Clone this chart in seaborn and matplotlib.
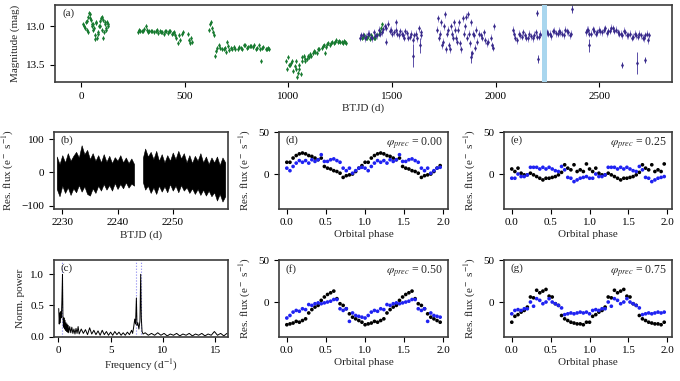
import matplotlib
matplotlib.use("Agg")
import matplotlib.pyplot as plt
import seaborn as sns
import pandas as pd

# ---- (a) long-term light curve ----
green_t = [12, 18, 24, 30, 36, 42, 48, 54, 60, 66, 72, 78, 84, 90, 96, 102, 108, 114, 120, 126, 132, 40, 56, 70, 85, 100,
           275, 285, 295, 305, 312, 320, 330, 340, 350, 360, 370, 380, 390, 400, 410, 420, 430, 440, 450, 460, 468, 475, 485, 490,
           518, 522, 526, 530, 534,
           618, 624, 630, 636, 640,
           645, 655, 665, 680, 695, 705, 715, 730, 745, 760, 775, 790, 805, 820, 835, 850, 865, 880, 895, 905, 700, 870,
           990, 995, 1000, 1008, 1015, 1022, 1030, 1038, 1045, 1052, 1060, 1068, 1075, 1082, 1090, 1100, 1110, 1120,
           1130, 1140, 1150, 1160, 1170, 1180, 1190, 1200, 1210, 1220, 1230, 1240, 1250, 1260, 1270, 1280, 1175, 1040,
           1355, 1365, 1375, 1385, 1395, 1405, 1415, 1425, 1435, 1445, 1450]
green_mag = [12.98, 13.02, 12.95, 13.05, 12.88, 12.85, 12.92, 13.0, 12.97, 13.12, 12.95, 13.15, 13.08, 12.93, 12.9, 13.05, 13.15, 12.98, 13.02, 12.95, 13.0, 12.83, 13.05, 13.17, 13.0, 12.88,
             13.08, 13.06, 13.07, 13.04, 13.0, 13.05, 13.07, 13.06, 13.08, 13.07, 13.09, 13.06, 13.08, 13.1, 13.07, 13.09, 13.06, 13.1, 13.08, 13.15, 13.22, 13.12, 13.1, 13.08,
             13.1, 13.18, 13.22, 13.15, 13.2,
             13.05, 12.98, 13.02, 13.08, 13.12,
             13.38, 13.28, 13.25, 13.3, 13.28, 13.2, 13.31, 13.29, 13.3, 13.27, 13.29, 13.25, 13.27, 13.26, 13.24, 13.28, 13.3, 13.27, 13.29, 13.3, 13.33, 13.45,
             13.45, 13.55, 13.4, 13.5, 13.48, 13.58, 13.52, 13.45, 13.6, 13.55, 13.62, 13.4, 13.38, 13.45, 13.42, 13.4, 13.38, 13.35,
             13.33, 13.35, 13.3, 13.28, 13.25, 13.27, 13.22, 13.24, 13.2, 13.22, 13.18, 13.2, 13.21, 13.2, 13.19, 13.22, 13.35, 13.65,
             13.15, 13.12, 13.16, 13.13, 13.17, 13.14, 13.15, 13.12, 13.1, 13.02, 12.98]
green_t_more = [15, 27, 33, 45, 51, 63, 75, 81, 93, 105, 111, 117, 123, 129,
                280, 300, 325, 345, 365, 385, 405, 425, 445, 455, 480,
                628,
                650, 670, 690, 710, 725, 740, 755, 770, 785, 800, 815, 830, 845, 860, 875, 890, 900,
                1005, 1020, 1035, 1050, 1065, 1080, 1095, 1105, 1125, 1145, 1165, 1185, 1205, 1225, 1245, 1265, 1275,
                1360, 1380, 1400, 1420, 1440]
green_mag_more = [13.0, 12.93, 13.08, 12.9, 12.98, 13.02, 12.96, 13.1, 13.0, 12.92, 13.08, 12.95, 13.05, 12.98,
                  13.05, 13.06, 13.08, 13.07, 13.05, 13.08, 13.07, 13.06, 13.09, 13.12, 13.18,
                  12.95,
                  13.32, 13.28, 13.3, 13.26, 13.28, 13.27, 13.3, 13.28, 13.25, 13.28, 13.26, 13.27, 13.29, 13.25, 13.28, 13.3, 13.28,
                  13.5, 13.45, 13.55, 13.5, 13.45, 13.42, 13.38, 13.36, 13.32, 13.3, 13.26, 13.23, 13.22, 13.2, 13.19, 13.22, 13.2,
                  13.14, 13.15, 13.12, 13.16, 13.08]
green_err = 0.025

purple_t = [1345, 1360, 1375, 1390, 1405, 1420, 1435, 1450, 1465, 1480, 1495, 1510, 1525, 1540, 1555, 1570, 1585, 1600, 1615, 1630, 1640, 1470, 1520, 1560,
            1715, 1725, 1735, 1745, 1755, 1765, 1775, 1785, 1795, 1805, 1815, 1825, 1835, 1845, 1855, 1865, 1875, 1885, 1895, 1905, 1920, 1935, 1950, 1965, 1980, 1990, 1760, 1870,
            2085, 2095, 2110, 2125, 2140, 2155, 2170, 2185, 2200, 2215, 2230, 2245, 2260, 2275, 2290, 2305, 2320, 2335, 2350, 2365,
            2435, 2445, 2460, 2475, 2490, 2505, 2520, 2535, 2550, 2565, 2580, 2595, 2610, 2625, 2640, 2655, 2670, 2685, 2700, 2715, 2730, 2740]
purple_mag = [13.15, 13.12, 13.14, 13.1, 13.16, 13.13, 13.05, 13.08, 13.0, 12.97, 13.05, 13.08, 13.1, 13.07, 13.12, 13.09, 13.14, 13.18, 13.1, 13.03, 13.12, 13.2, 12.95, 13.15,
              13.05, 13.15, 12.95, 13.2, 12.85, 13.1, 13.25, 13.0, 13.15, 13.05, 13.2, 12.95, 13.3, 13.1, 12.88, 12.85, 13.22, 13.35, 13.12, 13.05, 13.1, 13.15, 13.18, 13.2, 13.25, 13.0, 13.3, 13.1,
              13.05, 13.15, 13.1, 13.14, 13.12, 13.16, 13.13, 13.11, 13.14, 13.1, 13.12, 13.08, 13.1, 13.07, 13.09, 13.06, 13.1, 13.05, 13.08, 13.1,
              13.08, 13.05, 13.1, 13.06, 13.08, 13.07, 13.05, 13.09, 13.06, 13.03, 13.05, 13.1, 13.12, 13.08, 13.12, 13.15, 13.1, 13.14, 13.12, 13.16, 13.1, 13.12]
purple_t_more = [1350, 1368, 1382, 1398, 1412, 1428, 1442, 1458, 1472, 1488, 1502, 1518, 1532, 1548, 1562, 1578, 1592, 1608, 1622, 1638,
                 1720, 1730, 1740, 1750, 1770, 1780, 1790, 1800, 1810, 1820, 1830, 1840, 1850, 1860, 1880, 1890, 1900, 1910, 1930, 1945, 1960, 1975, 1985,
                 2090, 2102, 2118, 2132, 2148, 2162, 2178, 2192, 2208, 2222, 2252, 2268, 2282, 2298, 2312, 2328, 2342, 2358,
                 2440, 2452, 2468, 2482, 2498, 2512, 2528, 2542, 2558, 2572, 2588, 2602, 2618, 2632, 2648, 2662, 2678, 2692, 2708, 2722, 2735]
purple_mag_more = [13.12, 13.16, 13.1, 13.14, 13.08, 13.12, 13.1, 13.04, 13.02, 13.06, 13.1, 13.05, 13.12, 13.1, 13.07, 13.15, 13.1, 13.12, 13.16, 13.08,
                   12.9, 13.1, 13.25, 13.0, 13.05, 13.3, 13.1, 12.95, 13.15, 13.05, 13.22, 12.9, 13.0, 13.15, 12.95, 13.1, 13.28, 13.2, 13.12, 13.08, 13.22, 13.15, 13.28,
                   13.1, 13.18, 13.12, 13.08, 13.15, 13.1, 13.16, 13.08, 13.14, 13.12, 13.1, 13.13, 13.06, 13.1, 13.08, 13.12, 13.07, 13.12,
                   13.05, 13.1, 13.04, 13.1, 13.05, 13.08, 13.03, 13.07, 13.02, 13.06, 13.08, 13.1, 13.06, 13.12, 13.1, 13.14, 13.12, 13.1, 13.15, 13.12, 13.18]
purple_err = 0.045
# points with large error bars
out_t = [1600, 1635, 1880, 2200, 2205, 2370, 2450, 2610, 2680, 2720]
out_mag = [13.38, 13.25, 13.4, 12.83, 13.42, 12.78, 13.25, 13.5, 13.48, 13.44]
out_err = [0.15, 0.1, 0.08, 0.04, 0.05, 0.05, 0.08, 0.04, 0.14, 0.04]

# ---- (b) TESS residual flux envelope ----
b1_t = [2229.0, 2229.5, 2230.0, 2230.5, 2231.0, 2231.5, 2232.0, 2232.5, 2233.0, 2233.5, 2234.0, 2234.5, 2235.0, 2235.5,
        2236.0, 2236.5, 2237.0, 2237.5, 2238.0, 2238.5, 2239.0, 2239.5, 2240.0, 2240.5, 2241.0, 2241.5, 2242.0, 2242.5, 2243.0]
b1_hi = [48, 25, 52, 30, 58, 35, 50, 62, 45, 82, 55, 68, 40, 58, 35, 52, 30, 55, 32, 50, 28, 46, 35, 52, 30, 45, 28, 42, 25]
b1_lo = [-50, -72, -40, -62, -45, -68, -48, -60, -38, -58, -42, -65, -70, -48, -62, -40, -55, -35, -52, -38, -55, -32, -50, -35, -48, -30, -46, -34, -40]
b2_t = [2244.6, 2245.0, 2245.5, 2246.0, 2246.5, 2247.0, 2247.5, 2248.0, 2248.5, 2249.0, 2249.5, 2250.0, 2250.5, 2251.0, 2251.5, 2252.0,
        2252.5, 2253.0, 2253.5, 2254.0, 2254.5, 2255.0, 2255.5, 2256.0, 2256.5, 2257.0, 2257.5, 2258.0, 2258.5, 2259.0, 2259.5]
b2_hi = [45, 72, 48, 62, 40, 65, 35, 55, 30, 52, 35, 60, 40, 65, 42, 58, 30, 52, 28, 50, 35, 58, 30, 48, 25, 45, 30, 48, 22, 45, 30]
b2_lo = [-30, -52, -40, -62, -45, -65, -40, -58, -42, -60, -35, -55, -40, -60, -38, -55, -45, -62, -48, -65, -50, -68, -52, -70, -55, -72, -60, -85, -65, -88, -72]
span_a = (2222, 2246)

# ---- (c) periodogram ----
freq = [0.05, 0.1, 0.15, 0.2, 0.25, 0.3, 0.35, 0.41, 0.45, 0.5, 0.55, 0.6, 0.65, 0.7, 0.75, 0.8, 0.85, 0.9, 0.95,
        1.0, 1.1, 1.2, 1.3, 1.4, 1.5, 1.6, 1.7, 1.8, 1.9,
        2.0, 2.2, 2.4, 2.6, 2.8, 3.0, 3.2, 3.4, 3.6, 3.8, 4.0, 4.2, 4.4, 4.6, 4.8, 5.0, 5.2, 5.4, 5.6, 5.8, 6.0, 6.2, 6.4, 6.6, 6.8,
        7.0, 7.1, 7.2, 7.3, 7.38, 7.46, 7.52, 7.6, 7.7, 7.8, 7.87, 7.93, 8.0, 8.1,
        8.3, 8.6, 8.9, 9.2, 9.5, 9.8, 10.1, 10.4, 10.7, 11.0, 11.3, 11.6, 11.9, 12.2, 12.5, 12.8, 13.1, 13.4, 13.7, 14.0,
        14.3, 14.6, 14.9, 15.2, 15.5, 15.8, 16.1]
power = [0.45, 0.2, 0.38, 0.22, 0.4, 0.3, 0.55, 1.0, 0.35, 0.15, 0.3, 0.12, 0.26, 0.1, 0.22, 0.08, 0.2, 0.07, 0.18,
         0.06, 0.16, 0.06, 0.15, 0.05, 0.12, 0.04, 0.13, 0.05, 0.16,
         0.04, 0.12, 0.05, 0.11, 0.03, 0.14, 0.04, 0.1, 0.03, 0.09, 0.02, 0.1, 0.03, 0.08, 0.02, 0.07, 0.02, 0.08, 0.03, 0.07, 0.02, 0.06, 0.02, 0.07, 0.03,
         0.1, 0.05, 0.15, 0.28, 0.2, 0.62, 0.18, 0.22, 0.12, 0.25, 1.0, 0.3, 0.08, 0.04,
         0.06, 0.02, 0.05, 0.02, 0.06, 0.02, 0.05, 0.01, 0.04, 0.02, 0.05, 0.01, 0.04, 0.02, 0.05, 0.01, 0.04, 0.02, 0.05, 0.01,
         0.04, 0.02, 0.08, 0.02, 0.05, 0.01, 0.05]
peak_freqs = [0.41, 7.46, 7.87]

# ---- (d)-(g) phase-folded residuals ----
phase = [0.00, 0.04, 0.08, 0.12, 0.16, 0.20, 0.24, 0.28, 0.32, 0.36, 0.40, 0.44, 0.48,
         0.52, 0.56, 0.60, 0.64, 0.68, 0.72, 0.76, 0.80, 0.84, 0.88, 0.92, 0.96]
d_black = [14, 14, 19, 22, 24, 25, 24, 22, 21, 19, 17, 19, 9, 7, 6, 4, 3, 1, -4, -2, -1, 0, 3, 7, 10]
d_blue = [7, 4, 9, 13, 16, 14, 16, 13, 17, 15, 17, 23, 15, 15, 17, 18, 16, 14, 7, 4, 7, 1, 4, 7, 8]
e_black = [6, 3, 7, 1, -1, -1, 1, -1, -3, -5, -7, -5, -5, -4, -3, -1, 2, 11, 7, 5, 11, 3, 5, 3, 12]
e_blue = [-5, -5, 0, -3, -3, -1, 8, 8, 8, 6, 8, 6, 8, 6, 4, 3, 9, 5, -4, -5, -9, -7, -5, -4, -3]
f_black = [-27, -26, -25, -23, -24, -22, -20, -13, -9, -6, -4, 2, 6, 9, 11, 13, 4, -2, -4, -8, -14, -18, -20, -22, -24]
f_blue = [-19, -16, -12, -10, -11, -8, -9, -3, -4, -2, -1, -2, -1, 0, 1, 3, 3, -8, -10, -8, -23, -13, -16, -17, -18]
g_black = [-24, -17, -15, -12, -10, -6, 6, 5, 14, 11, 13, 15, 7, 6, -2, -4, -16, -20, -22, -24, -25, -26, -26, -27, -24]
g_blue = [-14, -10, -9, -10, -8, -8, 0, -5, 4, 2, -2, 0, 4, 0, -2, -4, -7, -15, -14, -13, -14, -13, -12, -13, -12]
prec_phase = ["0.00", "0.25", "0.50", "0.75"]

sns.set_style("ticks")
plt.rcParams['font.family'] = ['Liberation Serif', 'DejaVu Serif']
plt.rcParams['mathtext.fontset'] = 'stix'
plt.rcParams['font.size'] = 8
plt.rcParams['xtick.labelsize'] = 8
plt.rcParams['ytick.labelsize'] = 8
plt.rcParams['xtick.major.size'] = 3.5
plt.rcParams['ytick.major.size'] = 3.5

W, H = 680, 381
fig = plt.figure(figsize=(6.8, 3.81), dpi=100)


def box(x0, y0, x1, y1):
    # pixel box (top-left origin) -> axes
    return fig.add_axes([x0 / W, 1 - y1 / H, (x1 - x0) / W, (y1 - y0) / H])


def style(ax, label):
    for s in ax.spines.values():
        s.set_color('#3c3c3c')
        s.set_linewidth(1.2)
    ax.tick_params(colors='k', width=0.8)
    ax.text(0.04, 0.95, label, transform=ax.transAxes, ha='left', va='top', fontsize=8)


flux_lab = r'Res. flux (e$^-$ s$^{-1}$)'

# (a)
gt = green_t + green_t_more
gm = green_mag + green_mag_more
pt = purple_t + purple_t_more
pm = purple_mag + purple_mag_more
ax = box(55, 5, 672, 82)
ax.errorbar(gt, gm, yerr=green_err, fmt='none', ecolor='#8cc596', elinewidth=0.7, zorder=1)
sns.scatterplot(x=gt, y=gm, ax=ax, color='#177a30', marker='d', s=6, linewidth=0, zorder=2)
ax.errorbar(pt, pm, yerr=purple_err, fmt='none', ecolor='#a49ad6', elinewidth=0.7, zorder=1)
ax.errorbar(out_t, out_mag, yerr=out_err, fmt='none', ecolor='#5a4ea8', elinewidth=0.7, zorder=1)
sns.scatterplot(x=pt + out_t, y=pm + out_mag, ax=ax, color='#382a8a', marker='d', s=6, linewidth=0, zorder=2)
ax.axvspan(*span_a, color='#a9d6ee', lw=0, zorder=3)
ax.set_xlim(-125, 2850)
ax.set_ylim(13.72, 12.73)
ax.set_xticks([0, 500, 1000, 1500, 2000, 2500])
ax.set_yticks([13.0, 13.5])
ax.set_xlabel('BTJD (d)', labelpad=2)
ax.set_ylabel('Magnitude (mag)')
style(ax, '(a)')
ax.texts[0].set_position((0.012, 0.95))

# (b)
ax = box(54, 132, 228, 208.5)
ax.fill_between(b1_t, b1_lo, b1_hi, color='k', lw=0.4)
ax.fill_between(b2_t, b2_lo, b2_hi, color='k', lw=0.4)
ax.set_xlim(2228.5, 2260)
ax.set_ylim(-109, 122)
ax.set_xticks([2230, 2240, 2250])
ax.set_yticks([-100, 0, 100])
ax.set_xlabel('BTJD (d)', labelpad=2)
ax.set_ylabel(flux_lab)
style(ax, '(b)')

# (c)
ax = box(54, 260, 228, 336.5)
for f0 in peak_freqs:
    ax.axvline(f0, color='#8a86f0', ls=':', lw=0.8, zorder=0)
sns.lineplot(x=freq, y=power, ax=ax, color='k', lw=0.7)
ax.set_xlim(-0.4, 16.2)
ax.set_ylim(0, 1.23)
ax.set_xticks([0, 5, 10, 15])
ax.set_yticks([0.0, 0.5, 1.0])
ax.set_xlabel(r'Frequency (d$^{-1}$)', labelpad=2)
ax.set_ylabel('Norm. power')
style(ax, '(c)')

# (d)-(g)
series = [(d_black, d_blue), (e_black, e_blue), (f_black, f_blue), (g_black, g_blue)]
boxes = [(279, 132, 448, 208.5), (504, 132, 672, 208.5), (279, 260, 448, 336.5), (504, 260, 672, 336.5)]
labels = ['(d)', '(e)', '(f)', '(g)']
ph2 = phase + [p + 1 for p in phase]
for (blk, blu), bx, lab, pp in zip(series, boxes, labels, prec_phase):
    ax = box(*bx)
    df = pd.DataFrame({'phase': ph2 * 2,
                       'flux': blk * 2 + blu * 2,
                       'set': ['k'] * len(ph2) + ['b'] * len(ph2)})
    sns.scatterplot(data=df, x='phase', y='flux', hue='set', palette={'k': 'black', 'b': '#1f22f2'},
                    s=7, linewidth=0, legend=False, ax=ax)
    ax.set_xlim(-0.1, 2.06)
    ax.set_ylim(-41, 50)
    ax.set_xticks([0.0, 0.5, 1.0, 1.5, 2.0])
    ax.set_yticks([0, 50])
    ax.set_xlabel('Orbital phase', labelpad=2)
    ax.set_ylabel(flux_lab)
    style(ax, lab)
    ax.text(0.97, 0.95, r'$\varphi_{prec}$ = ' + pp, transform=ax.transAxes,
            ha='right', va='top', fontsize=8.5)

fig.savefig('out.png', dpi=100)
